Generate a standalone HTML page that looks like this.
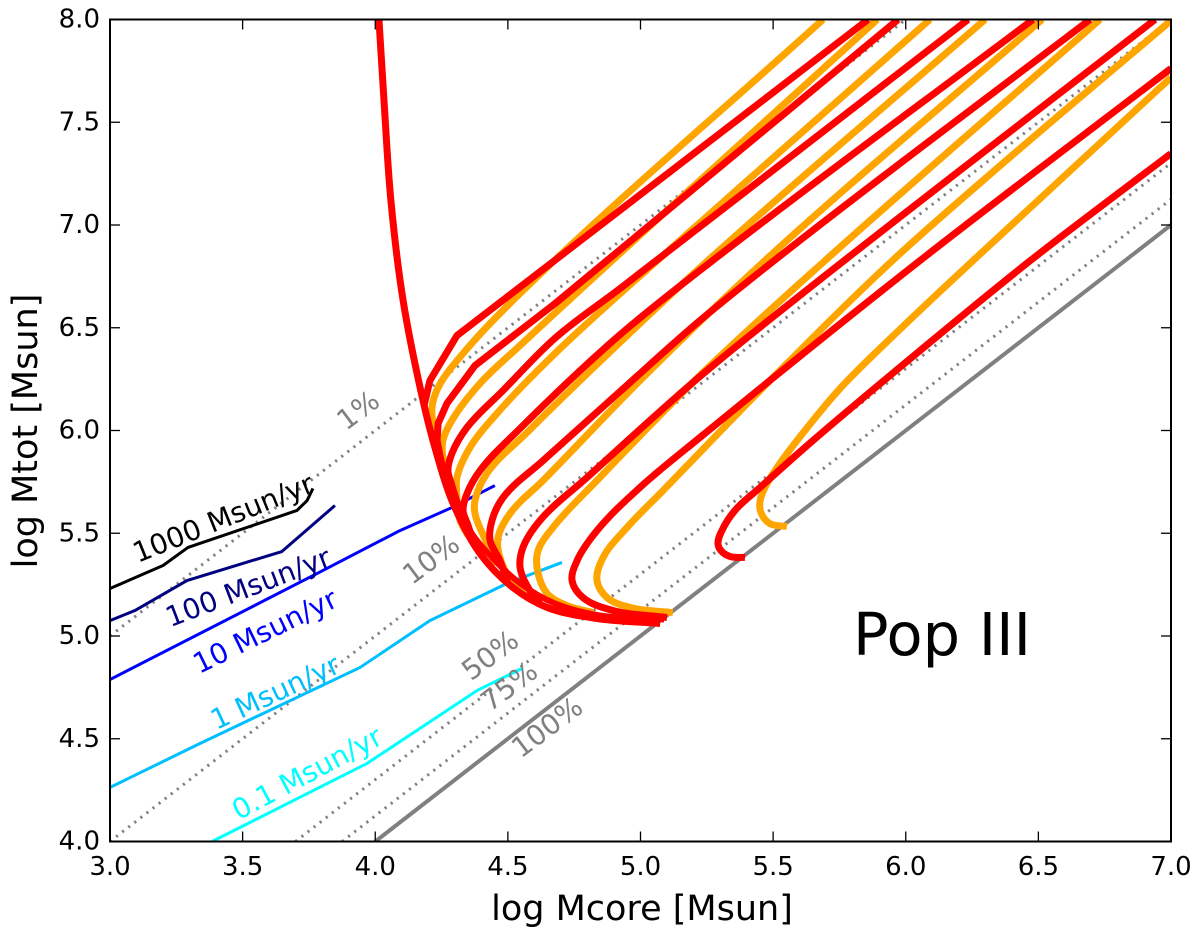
<!DOCTYPE html>
<html lang="en">
<head>
<meta charset="utf-8">
<title>Pop III log Mtot vs log Mcore</title>
<style>
html,body{margin:0;padding:0;background:#fff;width:1200px;height:935px;overflow:hidden;}
#chart{display:block;width:1200px;height:935px;font-family:"DejaVu Sans","Liberation Sans",sans-serif;}
</style>
</head>
<body>
<svg id="chart" xmlns="http://www.w3.org/2000/svg" width="1200" height="935" viewBox="0 0 1200 935">
  <defs>
    <clipPath id="plot-clip"><rect x="110" y="19.5" width="1061" height="822"></rect></clipPath>
  </defs>
  <rect x="0" y="0" width="1200" height="935" fill="#ffffff"></rect>
  <g id="ref-lines" clip-path="url(#plot-clip)"></g>
  <g id="rate-lines" clip-path="url(#plot-clip)"></g>
  <g id="orange-tracks" clip-path="url(#plot-clip)"></g>
  <g id="red-tracks" clip-path="url(#plot-clip)"></g>
  <g id="ticks"></g>
  <rect x="110" y="19.5" width="1061" height="822" fill="none" stroke="#000" stroke-width="2"></rect>
  <g id="tick-labels" font-size="26" fill="#000"></g>

  <text x="642" y="920" font-size="35" text-anchor="middle" fill="#000">log Mcore [Msun]</text>
  <text transform="translate(37,431) rotate(-90)" font-size="35" text-anchor="middle" fill="#000">log Mtot [Msun]</text>
  <text x="853" y="655" font-size="59" fill="#000">Pop III</text>

  <g font-size="28" text-anchor="middle">
    <text transform="translate(223,518) rotate(-22)" dy=".35em" fill="#000000">1000 Msun/yr</text>
    <text transform="translate(248,587) rotate(-21)" dy=".35em" fill="#000080">100 Msun/yr</text>
    <text transform="translate(265,631) rotate(-26)" dy=".35em" fill="#0000ff">10 Msun/yr</text>
    <text transform="translate(275,692) rotate(-25)" dy=".35em" fill="#00bfff">1 Msun/yr</text>
    <text transform="translate(307,773) rotate(-28)" dy=".35em" fill="#00ffff">0.1 Msun/yr</text>
    <text transform="translate(358,410) rotate(-37)" dy=".35em" fill="#808080">1%</text>
    <text transform="translate(431,559) rotate(-37)" dy=".35em" fill="#808080">10%</text>
    <text transform="translate(490,655) rotate(-37)" dy=".35em" fill="#808080">50%</text>
    <text transform="translate(509,686) rotate(-37)" dy=".35em" fill="#808080">75%</text>
    <text transform="translate(547,727) rotate(-37)" dy=".35em" fill="#808080">100%</text>
  </g>
</svg>
<script>
// Axis ticks
const xTicks = [3.0, 3.5, 4.0, 4.5, 5.0, 5.5, 6.0, 6.5, 7.0];
const yTicks = [4.0, 4.5, 5.0, 5.5, 6.0, 6.5, 7.0, 7.5, 8.0];

// Star-formation-efficiency reference lines (percent)
const efficiencies = [1, 10, 50, 75, 100];

// Accretion-rate contours
const rate1000Mcore = [3.0, 3.200, 3.294, 3.705, 3.743, 3.765];
const rate1000Mtot  = [5.231, 5.343, 5.431, 5.611, 5.659, 5.718];
const rate100Mcore  = [3.0, 3.094, 3.290, 3.648, 3.848];
const rate100Mtot   = [5.075, 5.124, 5.270, 5.411, 5.635];
const rate10Mcore   = [3.0, 3.803, 4.093, 4.289, 4.451];
const rate10Mtot    = [4.788, 5.319, 5.513, 5.625, 5.732];
const rate1Mcore    = [3.0, 3.339, 3.943, 4.206, 4.497, 4.704];
const rate1Mtot     = [4.263, 4.477, 4.847, 5.075, 5.256, 5.358];
const rate01Mcore   = [3.385, 3.969, 4.384, 4.553];
const rate01Mtot    = [4.0, 4.380, 4.735, 4.842];

// Envelope (red)
const envelopeMcore = [4.014, 4.033, 4.059, 4.105, 4.180, 4.225, 4.289, 4.395, 4.519, 4.648, 4.836, 5.074];
const envelopeMtot  = [8.0, 7.606, 7.119, 6.633, 6.146, 5.917, 5.659, 5.401, 5.236, 5.139, 5.085, 5.061];
const overlapMcore  = [4.263, 4.357, 4.433, 4.546, 4.678, 4.847, 5.089];
const overlapMtot   = [5.805, 5.513, 5.392, 5.256, 5.158, 5.100, 5.080];

// Red tracks
const red1Mcore = [4.184, 4.206, 4.308, 5.858];
const red1Mtot  = [6.122, 6.243, 6.462, 8.0];
const red2Mcore = [4.263, 4.244, 4.233, 4.237, 4.270, 4.376, 4.678, 5.971];
const red2Mtot  = [5.767, 5.878, 5.951, 6.034, 6.131, 6.316, 6.618, 8.0];
const red3Mcore = [4.312, 4.289, 4.274, 4.289, 4.346, 4.482, 4.681, 4.923, 6.235];
const red3Mtot  = [5.635, 5.732, 5.805, 5.888, 6.015, 6.195, 6.453, 6.691, 8.0];
const red4Mcore = [4.372, 4.350, 4.331, 4.346, 4.395, 4.546, 4.911, 5.224, 6.480];
const red4Mtot  = [5.450, 5.538, 5.611, 5.693, 5.805, 6.010, 6.453, 6.779, 8.0];
const red5Mcore = [4.500, 4.470, 4.433, 4.440, 4.482, 4.633, 4.923, 5.224, 5.601, 6.695];
const red5Mtot  = [5.256, 5.367, 5.465, 5.562, 5.674, 5.854, 6.190, 6.535, 6.925, 8.0];
const red6Mcore = [4.621, 4.583, 4.546, 4.557, 4.621, 4.798, 5.224, 5.601, 6.940];
const red6Mtot  = [5.158, 5.221, 5.333, 5.431, 5.562, 5.771, 6.263, 6.657, 8.0];
const red7Mcore = [5.100, 4.896, 4.783, 4.742, 4.761, 4.836, 4.998, 5.224, 6.054, 7.0];
const red7Mtot  = [5.090, 5.124, 5.187, 5.270, 5.367, 5.513, 5.723, 5.966, 6.827, 7.762];
const red8Mcore = [5.394, 5.337, 5.303, 5.292, 5.307, 5.356, 5.451, 5.650, 6.054, 6.470, 7.0];
const red8Mtot  = [5.382, 5.387, 5.416, 5.450, 5.513, 5.611, 5.723, 5.951, 6.389, 6.827, 7.348];

// Orange tracks
const orange1Mcore = [4.270, 4.244, 4.225, 4.214, 4.237, 4.331, 4.519, 5.688];
const orange1Mtot  = [5.781, 5.903, 5.985, 6.112, 6.209, 6.375, 6.633, 8.0];
const orange2Mcore = [4.301, 4.282, 4.255, 4.255, 4.289, 4.395, 4.546, 5.892];
const orange2Mtot  = [5.635, 5.757, 5.869, 5.951, 6.049, 6.229, 6.414, 8.0];
const orange3Mcore = [4.350, 4.320, 4.308, 4.308, 4.357, 4.459, 4.678, 5.149, 6.091];
const orange3Mtot  = [5.489, 5.562, 5.674, 5.771, 5.917, 6.083, 6.375, 6.925, 8.0];
const orange4Mcore = [4.451, 4.421, 4.376, 4.376, 4.421, 4.572, 4.847, 5.254, 6.299];
const orange4Mtot  = [5.343, 5.450, 5.596, 5.659, 5.791, 5.990, 6.336, 6.827, 8.0];
const orange5Mcore = [4.565, 4.519, 4.470, 4.463, 4.508, 4.633, 4.998, 5.469, 6.514];
const orange5Mtot  = [5.197, 5.256, 5.382, 5.479, 5.596, 5.757, 6.243, 6.827, 8.0];
const orange6Mcore = [4.821, 4.723, 4.648, 4.610, 4.614, 4.670, 4.836, 5.224, 5.696, 6.732];
const orange6Mtot  = [5.114, 5.148, 5.207, 5.333, 5.416, 5.528, 5.757, 6.268, 6.827, 8.0];
const orange7Mcore = [5.122, 4.960, 4.874, 4.836, 4.859, 4.949, 5.085, 5.488, 5.950, 6.357, 7.0];
const orange7Mtot  = [5.114, 5.139, 5.187, 5.270, 5.382, 5.528, 5.708, 6.243, 6.827, 7.290, 7.995];
const orange8Mcore = [5.552, 5.488, 5.454, 5.451, 5.477, 5.515, 5.590, 5.752, 5.978, 6.254, 7.0];
const orange8Mtot  = [5.533, 5.547, 5.601, 5.659, 5.742, 5.820, 5.951, 6.204, 6.492, 6.827, 7.718];

const SVG_NS = 'http://www.w3.org/2000/svg';

// Axis functions
function xScale(v) { return 110 + (v - 3) * 265.25; }
function yScale(v) { return 841.5 - (v - 4) * 205.5; }

function linePath(xs, ys) {
  let d = '';
  for (let i = 0; i < xs.length; i++) {
    d += (i ? 'L' : 'M') + xScale(xs[i]).toFixed(2) + ' ' + yScale(ys[i]).toFixed(2);
  }
  return d;
}

function unit(dx, dy) {
  const n = Math.hypot(dx, dy) || 1;
  return [dx / n, dy / n];
}

// Smooth curve through the read points; tangents scale with segment length so long straight runs stay straight
function smoothPath(xs, ys) {
  const p = xs.map(function (x, i) { return [xScale(x), yScale(ys[i])]; });
  const dirs = p.map(function (q, i) {
    if (i === 0) return unit(p[1][0] - q[0], p[1][1] - q[1]);
    if (i === p.length - 1) return unit(q[0] - p[i - 1][0], q[1] - p[i - 1][1]);
    const u = unit(q[0] - p[i - 1][0], q[1] - p[i - 1][1]);
    const v = unit(p[i + 1][0] - q[0], p[i + 1][1] - q[1]);
    return unit(u[0] + v[0], u[1] + v[1]);
  });
  let d = 'M' + p[0][0].toFixed(2) + ' ' + p[0][1].toFixed(2);
  for (let i = 0; i < p.length - 1; i++) {
    const b = p[i], c = p[i + 1];
    const len = Math.hypot(c[0] - b[0], c[1] - b[1]) / 3;
    const c1x = b[0] + dirs[i][0] * len, c1y = b[1] + dirs[i][1] * len;
    const c2x = c[0] - dirs[i + 1][0] * len, c2y = c[1] - dirs[i + 1][1] * len;
    d += 'C' + c1x.toFixed(2) + ' ' + c1y.toFixed(2) + ' ' + c2x.toFixed(2) + ' ' + c2y.toFixed(2) + ' ' + c[0].toFixed(2) + ' ' + c[1].toFixed(2);
  }
  return d;
}

function makePath(d, stroke, width) {
  const el = document.createElementNS(SVG_NS, 'path');
  el.setAttribute('d', d);
  el.setAttribute('fill', 'none');
  el.setAttribute('stroke', stroke);
  el.setAttribute('stroke-width', width);
  el.setAttribute('stroke-linejoin', 'round');
  return el;
}

// Efficiency lines, trimmed to the axis limits
const refGroup = document.getElementById('ref-lines');
efficiencies.forEach(function (pct) {
  const offset = -Math.log10(pct / 100);
  const startCore = Math.max(3, 4 - offset);
  const endCore = Math.min(7, 8 - offset);
  const el = makePath(linePath([startCore, endCore], [startCore + offset, endCore + offset]), '#808080', pct === 100 ? 4 : 3);
  if (pct !== 100) el.setAttribute('stroke-dasharray', '2.2 5.5');
  
  
  refGroup.appendChild(el);
});

// Accretion-rate lines
const rateGroup = document.getElementById('rate-lines');
[
  ['1000', rate1000Mcore, rate1000Mtot, '#000000'],
  ['100', rate100Mcore, rate100Mtot, '#000080'],
  ['10', rate10Mcore, rate10Mtot, '#0000ff'],
  ['1', rate1Mcore, rate1Mtot, '#00bfff'],
  ['0-1', rate01Mcore, rate01Mtot, '#00ffff']
].forEach(function (s) {
  const el = makePath(linePath(s[1], s[2]), s[3], 3);
  
  
  rateGroup.appendChild(el);
});

// Orange tracks
const orangeGroup = document.getElementById('orange-tracks');
[
  [orange1Mcore, orange1Mtot], [orange2Mcore, orange2Mtot], [orange3Mcore, orange3Mtot], [orange4Mcore, orange4Mtot],
  [orange5Mcore, orange5Mtot], [orange6Mcore, orange6Mtot], [orange7Mcore, orange7Mtot], [orange8Mcore, orange8Mtot]
].forEach(function (s, i) {
  const el = makePath(smoothPath(s[0], s[1]), '#ffa500', 7);
  
  
  orangeGroup.appendChild(el);
});

// Red tracks (the first two keep their sharp kinks)
const redGroup = document.getElementById('red-tracks');
[
  [red1Mcore, red1Mtot, true], [red2Mcore, red2Mtot, true], [red3Mcore, red3Mtot, false], [red4Mcore, red4Mtot, false],
  [red5Mcore, red5Mtot, false], [red6Mcore, red6Mtot, false], [red7Mcore, red7Mtot, false], [red8Mcore, red8Mtot, false]
].forEach(function (s, i) {
  const el = makePath(s[2] ? linePath(s[0], s[1]) : smoothPath(s[0], s[1]), '#ff0000', 7);
  
  
  redGroup.appendChild(el);
});

const envelopeEl = makePath(smoothPath(envelopeMcore, envelopeMtot), '#ff0000', 7);


redGroup.appendChild(envelopeEl);

const overlapEl = makePath(smoothPath(overlapMcore, overlapMtot), '#ff0000', 6);


redGroup.appendChild(overlapEl);

// Ticks and tick labels
const tickGroup = document.getElementById('ticks');
const labelGroup = document.getElementById('tick-labels');
function addTick(x1, y1, x2, y2, name) {
  const t = document.createElementNS(SVG_NS, 'line');
  t.setAttribute('x1', x1);
  t.setAttribute('y1', y1);
  t.setAttribute('x2', x2);
  t.setAttribute('y2', y2);
  t.setAttribute('stroke', '#000');
  t.setAttribute('stroke-width', '1.3');
  
  
  tickGroup.appendChild(t);
}
xTicks.forEach(function (v) {
  const x = xScale(v);
  addTick(x, 841.5, x, 831.5, 'x-tick-bottom');
  addTick(x, 19.5, x, 29.5, 'x-tick-top');
  const lab = document.createElementNS(SVG_NS, 'text');
  lab.setAttribute('x', x);
  lab.setAttribute('y', 875);
  lab.setAttribute('text-anchor', 'middle');
  
  
  lab.textContent = v.toFixed(1);
  labelGroup.appendChild(lab);
});
yTicks.forEach(function (v) {
  const y = yScale(v);
  addTick(110, y, 120, y, 'y-tick-left');
  addTick(1171, y, 1161, y, 'y-tick-right');
  const lab = document.createElementNS(SVG_NS, 'text');
  lab.setAttribute('x', 100);
  lab.setAttribute('y', y + 8);
  lab.setAttribute('text-anchor', 'end');
  
  
  lab.textContent = v.toFixed(1);
  labelGroup.appendChild(lab);
});
</script>
</body>
</html>
